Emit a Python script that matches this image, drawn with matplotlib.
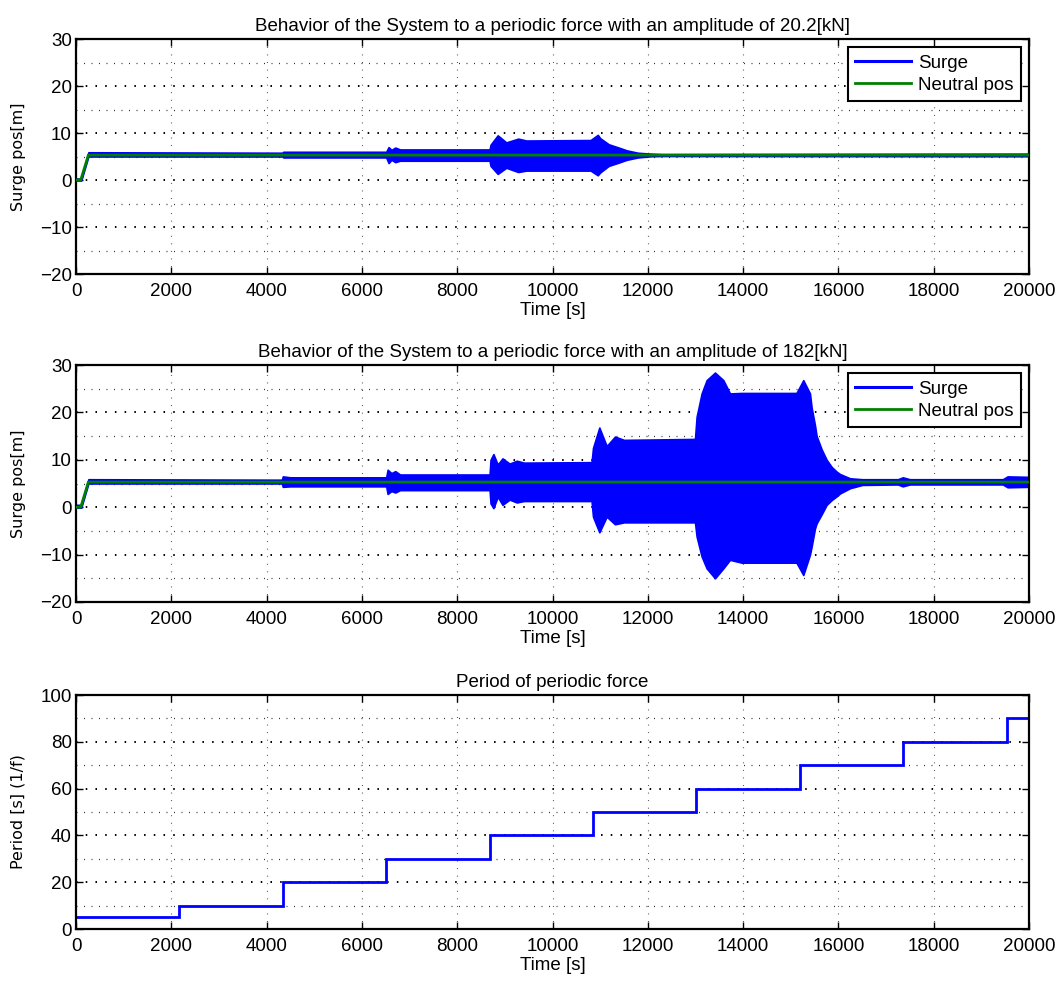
import matplotlib
matplotlib.use("Agg")
import matplotlib.pyplot as plt
from matplotlib.ticker import MultipleLocator

plt.rcParams['font.family'] = ['Liberation Sans', 'DejaVu Sans']

# ---------------- data ----------------
# Neutral position (green)
neutral_t = [0, 100, 260, 20000]
neutral_y = [0.0, 0.0, 5.3, 5.3]

# Surge envelope, amplitude 20.2 kN (time, upper, lower)
surge1_t = [0, 110, 260, 4330, 4350, 6510, 6560, 6620, 6700, 6800, 8680, 8700,
            8850, 9030, 9280, 9450, 10800, 10950, 11000, 11180, 11390, 11560,
            11790, 12070, 12300, 20000]
surge1_up = [0.3, 0.3, 5.9, 5.8, 6.0, 6.0, 7.0, 6.4, 6.9, 6.5, 6.5, 7.5,
             9.5, 8.0, 8.8, 8.4, 8.5, 9.6, 8.9, 7.6, 6.9, 6.3,
             5.8, 5.6, 5.5, 5.6]
surge1_lo = [-0.1, -0.1, 5.0, 5.0, 4.8, 4.8, 3.6, 4.3, 3.8, 4.1, 4.1, 3.0,
             1.3, 2.6, 1.7, 2.0, 2.0, 1.0, 1.6, 3.0, 3.7, 4.3,
             4.8, 5.05, 5.1, 5.05]

# Surge envelope, amplitude 182 kN (time, upper, lower)
surge2_t = [0, 110, 260, 4320, 4340, 4500, 6510, 6540, 6620, 6700, 6800, 8680,
            8700, 8760, 8850, 8950, 9100, 9250, 9400, 10820, 10850, 10983,
            11137, 11311, 11500, 12990, 13025, 13130, 13235, 13410, 13585,
            13725, 13970, 15120, 15263, 15403, 15438, 15508, 15543, 15648,
            15753, 15858, 15963, 16033, 16243, 16500, 17250, 17350, 17500,
            19450, 19550, 20000]
surge2_up = [0.5, 0.5, 5.9, 5.8, 6.5, 6.3, 6.3, 7.9, 7.2, 7.6, 6.9, 6.9,
             10.0, 11.2, 9.0, 10.3, 9.2, 9.8, 9.4, 9.5, 12.5, 16.8,
             12.9, 14.9, 14.2, 14.4, 19.1, 24.0, 26.8, 28.4, 26.8,
             24.0, 24.1, 24.1, 26.8, 24.0, 21.0, 17.3, 15.0, 12.2,
             10.0, 8.5, 7.5, 7.0, 6.1, 5.9, 5.9, 6.3, 5.9,
             5.9, 6.5, 6.4]
surge2_lo = [-0.1, -0.1, 5.0, 5.0, 4.3, 4.4, 4.4, 2.8, 3.4, 3.1, 3.6, 3.6,
             0.8, -0.2, 2.2, 0.5, 1.6, 1.0, 1.3, 1.3, -2.0, -5.3,
             -2.0, -3.6, -3.2, -3.2, -6.2, -10.4, -12.9, -15.0, -12.9,
             -11.1, -11.7, -11.7, -14.3, -10.0, -8.3, -4.5, -3.4, -1.5,
             0.5, 1.5, 2.3, 2.9, 4.0, 4.7, 4.8, 4.4, 4.8,
             4.8, 4.2, 4.3]

# Period of the periodic force (step changes)
period_edges = [0, 2170, 4340, 6510, 8680, 10850, 13020, 15190, 17360, 19530, 20000]
period_vals = [5, 10, 20, 30, 40, 50, 60, 70, 80, 90]

titles = ["Behavior of the System to a periodic force with an amplitude of 20.2[kN]",
          "Behavior of the System to a periodic force with an amplitude of 182[kN]",
          "Period of periodic force"]

# ---------------- figure ----------------
fig = plt.figure(figsize=(10.6, 9.81), dpi=100)
W, H = 1060.0, 981.0
def rect(l, t, r, b):
    return [l / W, 1 - b / H, (r - l) / W, (b - t) / H]

ax1 = fig.add_axes(rect(76, 39, 1029, 274))
ax2 = fig.add_axes(rect(76, 365, 1029, 602))
ax3 = fig.add_axes(rect(76, 695, 1029, 929))

BLUE = '#0000ff'
GREEN = '#008000'
FS = 13.5
YFS = 11.5

def style(ax, ymaj, ymin_step):
    ax.set_xlim(0, 20000)
    ax.xaxis.set_major_locator(MultipleLocator(2000))
    ax.yaxis.set_major_locator(MultipleLocator(ymaj))
    ax.yaxis.set_minor_locator(MultipleLocator(ymin_step))
    ax.tick_params(which='both', direction='in', top=True, right=True,
                   labelsize=FS, width=1.0)
    ax.tick_params(which='major', length=5)
    ax.tick_params(axis='x', which='major', pad=6.5)
    ax.tick_params(axis='y', which='major', pad=3)
    ax.tick_params(which='minor', length=0)
    ax.grid(True, which='major', axis='y', color='black', linestyle=(0, (0.8, 4.2)), linewidth=1.4)
    ax.grid(True, which='minor', axis='y', color='#333333', linestyle=(0, (0.8, 5.2)), linewidth=0.9)
    ax.grid(True, which='major', axis='x', color='#444444', linestyle=(0, (0.8, 6)), linewidth=0.8)
    ax.set_axisbelow(True)
    for s in ax.spines.values():
        s.set_linewidth(1.6)
    ax.set_xlabel("Time [s]", fontsize=FS, labelpad=1.5)
    ax.yaxis.set_label_coords(-0.0525, 0.5)

for ax, t, up, lo, title in [(ax1, surge1_t, surge1_up, surge1_lo, titles[0]),
                             (ax2, surge2_t, surge2_up, surge2_lo, titles[1])]:
    ax.fill_between(t, lo, up, color=BLUE, linewidth=1.2, edgecolor=BLUE, zorder=2)
    ax.plot([], [], color=BLUE, linewidth=2.2, label='Surge')
    ax.plot(neutral_t, neutral_y, color=GREEN, linewidth=2, label='Neutral pos', zorder=3)
    ax.set_ylim(-20, 30)
    style(ax, 10, 5)
    ax.set_title(title, fontsize=FS, pad=6)
    ax.set_ylabel("Surge pos[m]", fontsize=YFS, family='DejaVu Sans')
    leg = ax.legend(loc='upper right', fontsize=FS, fancybox=False, framealpha=1,
                    edgecolor='black', borderaxespad=0.43, handlelength=3.0,
                    borderpad=0.4, labelspacing=0.25, handletextpad=0.35)
    leg.get_frame().set_linewidth(1.5)

ax3.stairs(period_vals, period_edges, color=BLUE, linewidth=2, baseline=None, zorder=2)
ax3.set_ylim(0, 100)
style(ax3, 20, 10)
ax3.set_title(titles[2], fontsize=FS, pad=6)
ax3.set_ylabel("Period [s] (1/f)", fontsize=YFS, family='DejaVu Sans')

fig.savefig("out.png", dpi=100)
